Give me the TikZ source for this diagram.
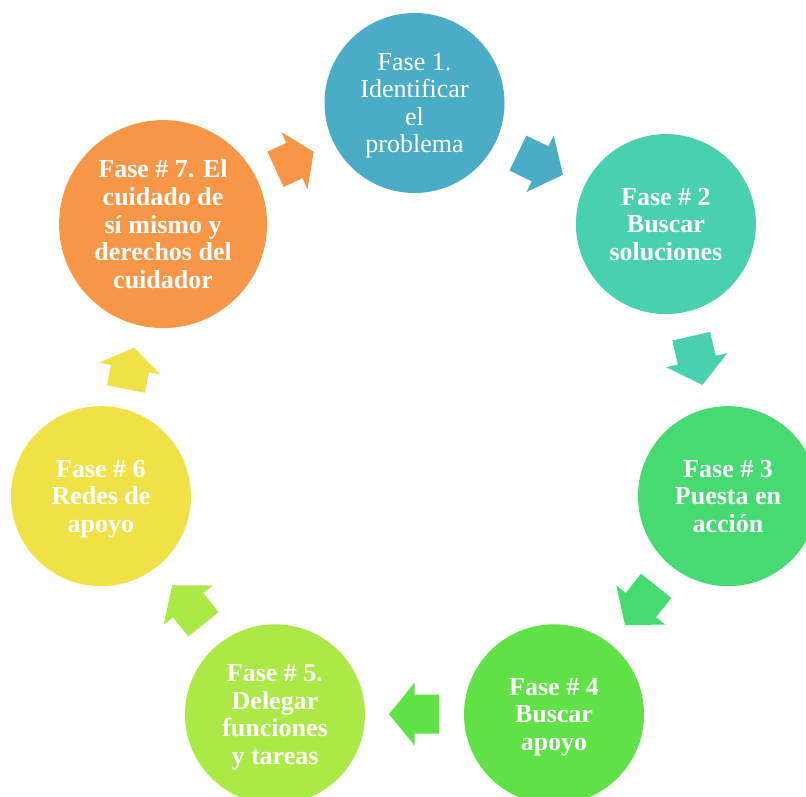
\documentclass[tikz,border=0pt]{standalone}
\usepackage{fontspec}
\setmainfont{Liberation Serif}
\usetikzlibrary{shapes.arrows}

\definecolor{faseA}{RGB}{75,172,198}
\definecolor{faseB}{RGB}{72,208,175}
\definecolor{faseC}{RGB}{71,217,114}
\definecolor{faseD}{RGB}{96,225,70}
\definecolor{faseE}{RGB}{171,233,70}
\definecolor{faseF}{RGB}{240,226,70}
\definecolor{faseG}{RGB}{247,150,70}

\tikzset{
  fase/.style={circle, fill=#1, minimum size=90pt, inner sep=0pt, text=white,
    align=center, text depth=0pt, font=\bfseries\fontsize{13}{13.8}\selectfont},
  flecha/.style={single arrow, fill=#1, draw=none, inner xsep=0pt, inner ysep=9.5pt,
    minimum height=25pt, minimum width=31pt, anchor=tail,
    single arrow head extend=6pt, single arrow tip angle=102},
  flechacorta/.style={flecha=#1, minimum height=21pt, single arrow tip angle=112}
}

\begin{document}
\begin{tikzpicture}[x=0.5pt, y=0.5pt]
    \useasboundingbox (-414.5,-371.4) rectangle (391.5,424.6);

    % Fases del ciclo
    \node[fase=faseA, font=\fontsize{13}{13.8}\selectfont] (f1) at (90:321.6) {Fase 1.\\Identificar\\el\\problema};
    \node[fase=faseB] (f2) at (38.57:321.6) {Fase \# 2\\Buscar\\soluciones};
    \node[fase=faseC] (f3) at (-12.86:321.6) {Fase \# 3\\Puesta en\\acción};
    \node[fase=faseD] (f4) at (-64.29:321.6) {Fase \# 4\\Buscar\\apoyo};
    \node[fase=faseE] (f5) at (-115.71:321.6) {Fase \# 5.\\Delegar\\funciones\\y tareas};
    \node[fase=faseF] (f6) at (-167.14:321.6) {Fase \# 6\\Redes de\\apoyo};
    \node[fase=faseG, minimum size=104pt] (f7) at (141.43:321.6) {Fase \# 7. El\\cuidado de\\sí mismo y\\derechos del\\cuidador};

    % Flechas entre fases (colocadas por la cola)
    \foreach \ang/\col/\nom in {64.29/faseA/a1, 12.86/faseB/a2, -38.57/faseC/a3, -90/faseD/a4, -141.43/faseE/a5}
        \node[flecha=\col, rotate=\ang-90] (\nom) at ([shift={(\ang+90:25)}] \ang:289.5) {};
    \node[flechacorta=faseF, rotate=78.9] (a6) at ([shift={(258.9:21)}] 168.9:290) {};
    \node[flechacorta=faseG, rotate=24.5] (a7) at ([shift={(204.5:21)}] 114.5:290) {};
\end{tikzpicture}
\end{document}
